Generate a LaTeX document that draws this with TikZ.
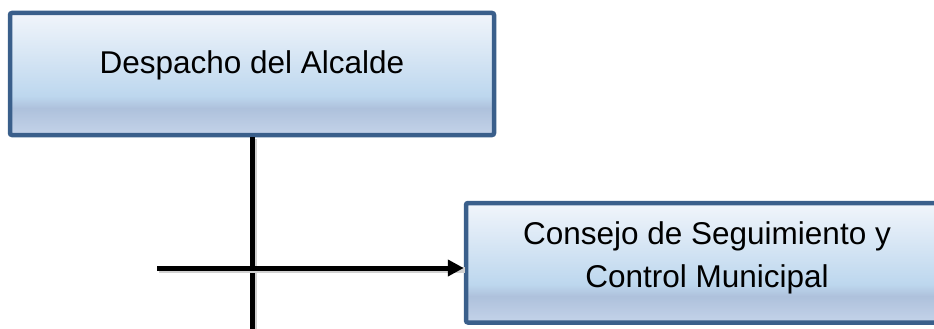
\documentclass[tikz,border=0pt]{standalone}
\usepackage{fontspec}
\setmainfont{Liberation Sans}
\usetikzlibrary{arrows.meta}
\definecolor{bordeazul}{RGB}{58,95,139}
\definecolor{cajatop}{RGB}{241,245,251}
\definecolor{cajamid}{RGB}{189,215,238}
\definecolor{cajaband}{RGB}{174,193,220}
\definecolor{cajabot}{RGB}{196,211,233}
\pgfdeclareverticalshading{cajaazul}{100bp}{%
  color(0bp)=(cajabot); color(25bp)=(cajabot); color(36bp)=(cajaband);
  color(41bp)=(cajamid); color(75bp)=(cajatop); color(100bp)=(cajatop)}

\begin{document}
\begin{tikzpicture}[x=1pt, y=-1pt, >=Stealth,
    font=\fontsize{31.5}{43}\selectfont]

  \tikzset{
    caja/.style={draw=bordeazul, line width=4.5pt, rounded corners=2pt,
                 shading=cajaazul, inner sep=0pt, align=center},
    linea/.style={line width=5pt, black,
                  preaction={draw=black!18, line width=6pt, -,
                             transform canvas={shift={(1.5pt,-1.5pt)}}}}
  }

  \clip (0,0) rectangle (934,329);

  % boxes
  \node[caja, minimum width=484pt, minimum height=122pt,
        text height=22pt, text depth=22pt] (despacho) at (252,74)
    {Despacho del Alcalde};
  \node[caja, minimum width=482pt, minimum height=119.5pt,
        text height=60pt, text depth=10pt] (consejo) at (707,262.75)
    {Consejo de Seguimiento y\\Control Municipal};

  % free ends
  \coordinate (bajo) at (252,340);
  \coordinate (ini) at (157,268);

  % connectors
  \draw[linea] (despacho.south) -- (despacho.south |- bajo);
  \draw[linea, -{Triangle[length=16pt, width=16pt]}]
    (ini) -- (ini -| consejo.west);

\end{tikzpicture}
\end{document}
